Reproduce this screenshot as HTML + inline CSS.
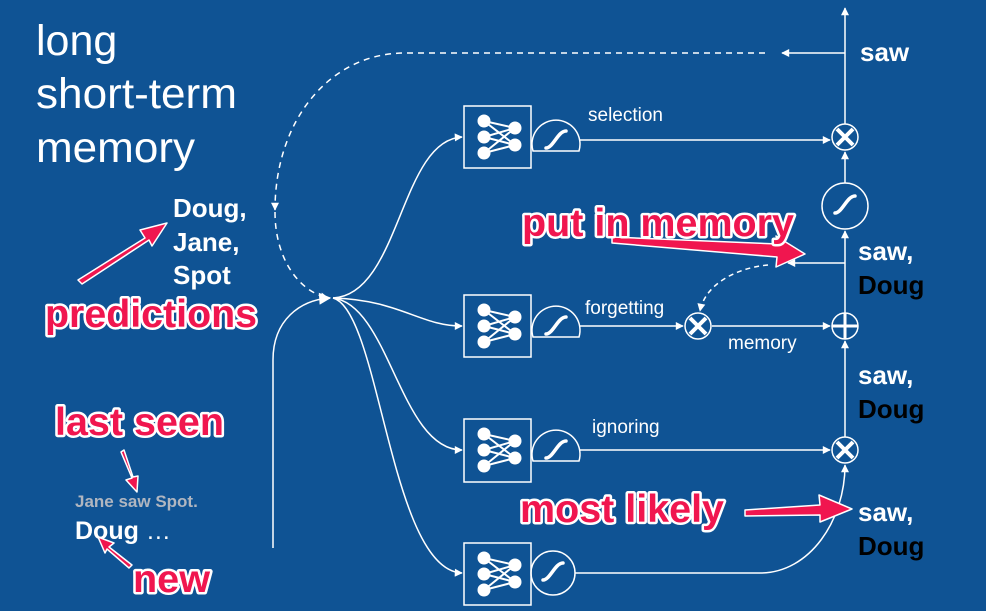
<!DOCTYPE html>
<html><head><meta charset="utf-8"><style>
html,body{margin:0;padding:0;background:#0f5394;}
svg{display:block;font-family:"Liberation Sans",Arial,sans-serif;}
.pk{fill:#f0164f;stroke:#fff;stroke-width:5;paint-order:stroke;stroke-linejoin:round;font-weight:bold;font-size:39px;letter-spacing:0px}
</style></head><body>
<svg width="986" height="611" viewBox="0 0 986 611" xmlns="http://www.w3.org/2000/svg">
<defs>
<marker id="a" viewBox="0 0 10 10" refX="9" refY="5" markerWidth="10" markerHeight="8" orient="auto-start-reverse" markerUnits="userSpaceOnUse"><path d="M0,0 L10,5 L0,10z" fill="#fff"/></marker>
<marker id="b" viewBox="0 0 10 10" refX="9" refY="5" markerWidth="15" markerHeight="12" orient="auto" markerUnits="userSpaceOnUse"><path d="M0,0 L10,5 L0,10z" fill="#fff"/></marker>
<g id="nn" fill="#fff" stroke="#fff" stroke-width="2">
<line x1="0" y1="0" x2="31" y2="7"/><line x1="0" y1="0" x2="31" y2="24"/>
<line x1="0" y1="16" x2="31" y2="7"/><line x1="0" y1="16" x2="31" y2="24"/>
<line x1="0" y1="32" x2="31" y2="7"/><line x1="0" y1="32" x2="31" y2="24"/>
<circle cx="0" cy="0" r="5.5"/><circle cx="0" cy="16" r="5.5"/><circle cx="0" cy="32" r="5.5"/>
<circle cx="31" cy="7" r="5.5"/><circle cx="31" cy="24" r="5.5"/>
</g>
<g id="sg"><path d="M-23,10 A24,24 0 1 1 23,10 Z" fill="none" stroke="#fff" stroke-width="1.5"/><path d="M-10,7 C-3,7 2,-10 10,-10" fill="none" stroke="#fff" stroke-width="3.5" stroke-linecap="round"/></g>
<g id="x"><circle r="13" fill="none" stroke="#fff" stroke-width="1.5"/><path d="M-8,-8 L8,8 M-8,8 L8,-8" stroke="#fff" stroke-width="4"/></g>
</defs>
<g fill="#fff">
<text x="36" y="55" font-size="43">long</text>
<text x="36" y="108" font-size="43" textLength="201" lengthAdjust="spacingAndGlyphs">short-term</text>
<text x="36" y="162" font-size="43" textLength="159" lengthAdjust="spacingAndGlyphs">memory</text>
</g>
<g fill="#fff" font-weight="bold" font-size="26">
<text x="173" y="217">Doug,</text><text x="173" y="251">Jane,</text><text x="173" y="284">Spot</text>
<text x="860" y="61">saw</text>
<text x="858" y="260">saw,</text><text x="858" y="294" fill="#000">Doug</text>
<text x="858" y="384">saw,</text><text x="858" y="418" fill="#000">Doug</text>
<text x="858" y="521">saw,</text><text x="858" y="555" fill="#000">Doug</text>
</g>
<text x="75" y="507" fill="#b0b6c0" font-weight="bold" font-size="17">Jane saw Spot.</text>
<text x="75" y="539" fill="#fff" font-weight="bold" font-size="25">Doug <tspan font-weight="normal">…</tspan></text>
<g fill="none" stroke="#fff" stroke-width="1.5">
<rect x="464" y="106" width="67" height="62"/><rect x="464" y="295" width="67" height="62"/>
<rect x="464" y="419" width="67" height="63"/><rect x="464" y="543" width="67" height="62"/>
<path d="M273,548 L273,360 C273,320 300,300 330,298" marker-end="url(#b)"/>
<path d="M333,298 C400,295 400,140 462,137" marker-end="url(#a)"/>
<path d="M333,298 C400,300 420,326 462,326" marker-end="url(#a)"/>
<path d="M333,298 C390,305 400,450 462,450" marker-end="url(#a)"/>
<path d="M333,298 C380,310 390,570 462,573" marker-end="url(#a)"/>
<path d="M765,53 L405,53 C330,53 275,120 275,210" stroke-dasharray="6,5" marker-end="url(#a)"/>
<path d="M275,212 C275,260 300,292 328,298" stroke-dasharray="6,5" marker-end="url(#a)"/>
<path d="M845,53 L782,53" marker-end="url(#a)"/>
<path d="M845,124 L845,8" marker-end="url(#a)"/>
<path d="M845,183 L845,152" marker-end="url(#a)"/>
<path d="M845,313 L845,231" marker-end="url(#a)"/>
<path d="M845,437 L845,341" marker-end="url(#a)"/>
<path d="M845,263 L788,263" marker-end="url(#a)"/>
<path d="M768,265 C735,268 705,285 700,311" stroke-dasharray="5,4" marker-end="url(#a)"/>
<path d="M579,140 L830,140" marker-end="url(#a)"/>
<path d="M579,326 L683,326" marker-end="url(#a)"/>
<path d="M712,326 L830,326" marker-end="url(#a)"/>
<path d="M579,450 L830,450" marker-end="url(#a)"/>
<path d="M575,573 L760,573 C810,573 845,520 845,465" marker-end="url(#a)"/>
</g>
<use href="#nn" x="484" y="121"/><use href="#nn" x="484" y="310"/><use href="#nn" x="484" y="434"/><use href="#nn" x="484" y="558"/>
<use href="#sg" x="556" y="141"/><use href="#sg" x="556" y="327"/><use href="#sg" x="556" y="451"/>
<g transform="translate(553,573)"><circle r="22" fill="none" stroke="#fff" stroke-width="1.5"/><path d="M-10,7 C-3,7 2,-10 10,-10" fill="none" stroke="#fff" stroke-width="3.5" stroke-linecap="round"/></g>
<g transform="translate(845,206)"><circle r="23" fill="#0f5394" stroke="#fff" stroke-width="1.5"/><path d="M-10,7 C-3,7 2,-10 10,-10" fill="none" stroke="#fff" stroke-width="3.5" stroke-linecap="round"/></g>
<use href="#x" x="845" y="137"/><use href="#x" x="845" y="450"/><use href="#x" x="698" y="326"/>
<g transform="translate(845,326)"><circle r="13" fill="none" stroke="#fff" stroke-width="1.5"/><path d="M-13,0 L13,0 M0,-13 L0,13" stroke="#fff" stroke-width="3"/></g>
<g fill="#fff" font-size="19">
<text x="588" y="121">selection</text><text x="585" y="314">forgetting</text>
<text x="728" y="349">memory</text><text x="592" y="433">ignoring</text>
</g>
<g fill="#f0164f" stroke="#fff" stroke-width="1.5" stroke-linejoin="round">
<path d="M78,280 L145,238 L140,230 L167,223 L152,246 L149,240 L82,284Z"/>
<path d="M612,237 L778,244 L776,236 L805,254 L776,267 L777,257 L612,243Z"/>
<path d="M121,452 L132,478 L126,480 L137,492 L138,476 L133,477 L124,450Z"/>
<path d="M132,565 L109,547 L114,543 L98,537 L105,553 L107,549 L129,568Z"/>
<path d="M745,510 L820,505 L819,495 L852,509 L820,522 L820,515 L745,516Z"/>
</g>
<text class="pk" x="45" y="327" textLength="212" lengthAdjust="spacingAndGlyphs">predictions</text>
<text class="pk" x="522" y="236" textLength="272" lengthAdjust="spacingAndGlyphs">put in memory</text>
<text class="pk" x="55" y="435" textLength="169" lengthAdjust="spacingAndGlyphs">last seen</text>
<text class="pk" x="133" y="592" textLength="77" lengthAdjust="spacingAndGlyphs">new</text>
<text class="pk" x="520" y="522" textLength="204" lengthAdjust="spacingAndGlyphs">most likely</text>
</svg>
</body></html>
